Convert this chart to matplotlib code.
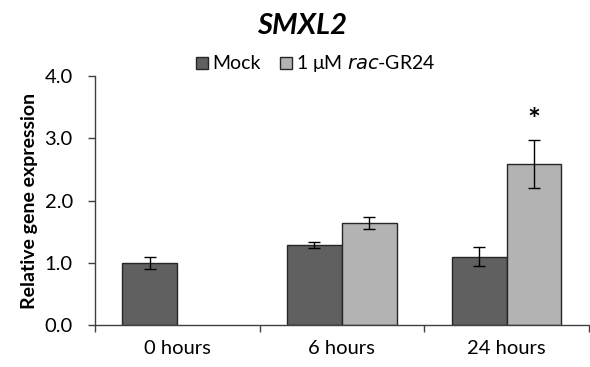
import matplotlib
matplotlib.use("Agg")
import matplotlib.pyplot as plt
from matplotlib.lines import Line2D
import numpy as np

categories = ["0 hours", "6 hours", "24 hours"]
mock = [1.00, 1.29, 1.10]
mock_err = [0.10, 0.05, 0.15]
gr24 = [np.nan, 1.64, 2.58]
gr24_err = [np.nan, 0.09, 0.385]
yticks = [0.0, 1.0, 2.0, 3.0, 4.0]

plt.rcParams['font.family'] = ['Lato', 'DejaVu Sans']

fig = plt.figure(figsize=(5.9, 3.67), dpi=100)
ax = fig.add_axes([0.161, 0.114, 0.837, 0.679])

x = np.arange(len(categories))
w = 1/3
ax.bar(x - w/2, mock, w, color="#606060", edgecolor="#262626", linewidth=1.0, zorder=2)
ax.bar(x + w/2, gr24, w, color="#b3b3b3", edgecolor="#262626", linewidth=1.0, zorder=2)
ax.errorbar(x - w/2, mock, yerr=mock_err, fmt="none", ecolor="black", elinewidth=1.0, capsize=4, capthick=1.0, zorder=3)
ax.errorbar(x + w/2, gr24, yerr=gr24_err, fmt="none", ecolor="black", elinewidth=1.0, capsize=4, capthick=1.0, zorder=3)

ax.text(2 + w/2, gr24[2] + gr24_err[2] + 0.32, "*", ha="center", va="center", fontsize=22, fontweight="bold")

ax.set_xlim(-0.5, 2.5)
ax.set_ylim(0, 4.0)
ax.set_yticks(yticks)
ax.set_yticklabels([f"{v:.1f}" for v in yticks], fontsize=14.5)
ax.set_xticks(x)
ax.set_xticklabels(categories, fontsize=14.5)
ax.tick_params(axis="x", which="major", length=0, pad=11)
ax.set_xticks([-0.5, 0.5, 1.5, 2.5], minor=True)
ax.tick_params(axis="x", which="minor", length=5, color="#404040", width=1)
ax.tick_params(axis="y", length=5, color="#404040", width=1, pad=11)

for s in ["top", "right"]:
    ax.spines[s].set_visible(False)
for s in ["left", "bottom"]:
    ax.spines[s].set_color("#404040")
    ax.spines[s].set_linewidth(1.0)

ax.set_ylabel("Relative gene expression", fontsize=14, fontweight="bold", labelpad=5)

fig.text(0.512, 0.93, "SMXL2", ha="center", va="center", fontsize=21, fontweight="bold", fontstyle="italic")

handles = [
    Line2D([], [], marker="s", linestyle="none", markersize=9, markerfacecolor="#606060", markeredgecolor="#262626"),
    Line2D([], [], marker="s", linestyle="none", markersize=9, markerfacecolor="#b3b3b3", markeredgecolor="#262626"),
]
labels = ["Mock", r"1 μM $\it{rac}$-GR24"]
fig.legend(handles, labels, loc="center", bbox_to_anchor=(0.532, 0.826), ncol=2, frameon=False,
           fontsize=14, handletextpad=0.0, columnspacing=0.8, handlelength=1.0)

fig.savefig("out.png", dpi=100)
